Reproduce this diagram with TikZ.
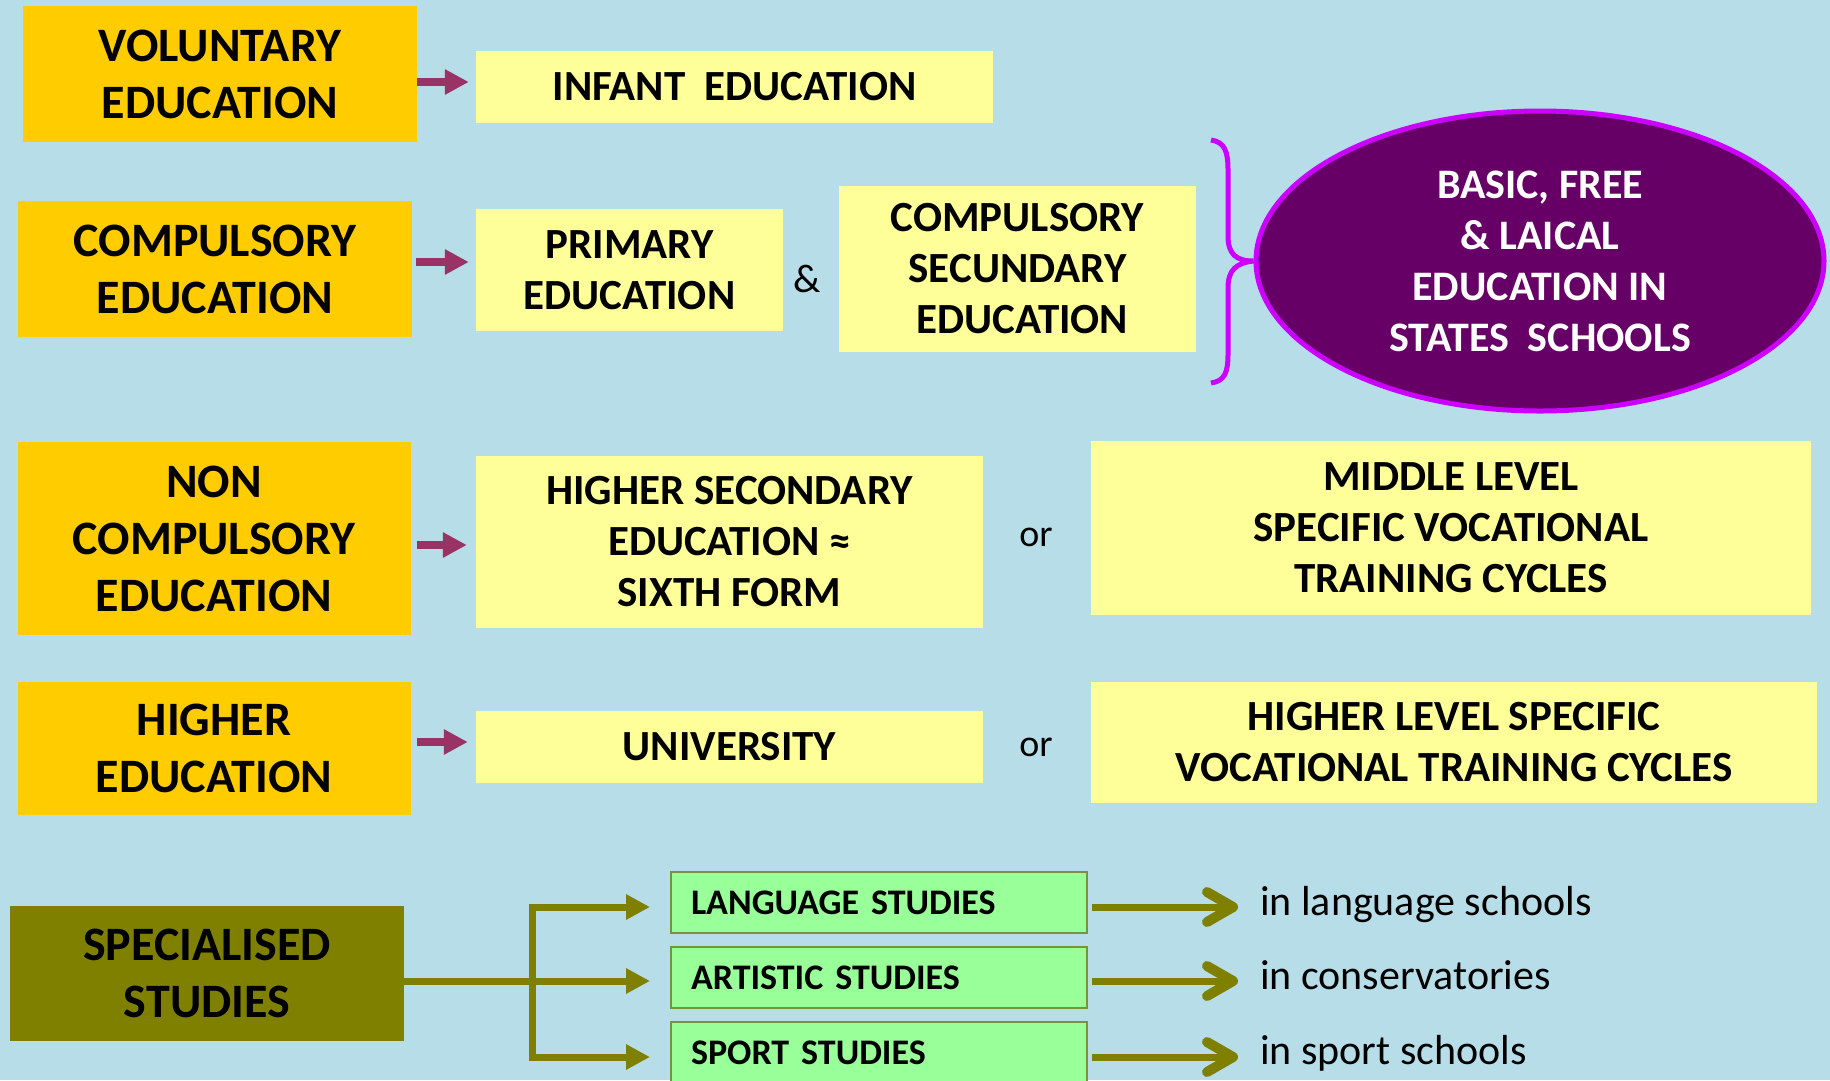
\documentclass[tikz,border=0pt]{standalone}
\usepackage{fontspec}
\setmainfont{Carlito}
\usetikzlibrary{arrows.meta,shapes.geometric}
\definecolor{bg}{RGB}{183,222,232}
\definecolor{orng}{RGB}{255,204,0}
\definecolor{ylw}{RGB}{255,255,153}
\definecolor{parr}{RGB}{153,51,102}
\definecolor{plum}{RGB}{102,0,102}
\definecolor{vio}{RGB}{204,0,255}
\definecolor{olv}{RGB}{128,128,0}
\definecolor{grn}{RGB}{153,255,153}
\definecolor{grnb}{RGB}{119,147,60}
\begin{document}
\begin{tikzpicture}[x=1pt,y=-1pt,
  box/.style={inner sep=0pt, align=center},
  obox/.style={box, fill=orng, font=\bfseries\fontsize{48}{57}\selectfont},
  ybox/.style={box, fill=ylw, font=\bfseries\fontsize{43}{51}\selectfont},
  gbox/.style={fill=grn, draw=grnb, line width=2pt, inner ysep=0pt, inner xsep=20pt,
    text width=376pt, align=left, minimum height=61pt, font=\bfseries\fontsize{36}{40}\selectfont},
  sbox/.style={box, fill=olv, font=\bfseries\fontsize{48}{57}\selectfont},
  plain/.style={inner sep=0pt, font=\fontsize{42}{48}\selectfont},
  parrow/.style={draw=parr, line width=8pt, -{Triangle[length=24pt,width=24pt]}},
  oline/.style={draw=olv, line width=7pt},
  oarrs/.style={oline, line join=miter, -{Triangle[length=24pt,width=24pt]}, shorten >=20pt},
  oarrl/.style={oline, -{Straight Barb[length=26pt,width=30pt,round,line width=10pt 0]}, shorten >=22pt, shorten <=4pt},
]
\useasboundingbox (0,0) rectangle (1830,1080);
\clip (0,0) rectangle (1830,1080);
\fill[bg] (0,0) rectangle (1830,1080);

% left column
\node[obox, minimum width=394pt, minimum height=136pt] (vol) at (220,74) {VOLUNTARY\\EDUCATION};
\node[obox, minimum width=394pt, minimum height=136pt] (comp) at (215,269) {COMPULSORY\\EDUCATION};
\node[obox, minimum width=393pt, minimum height=193pt] (ncomp) at (214,538.5) {NON\\COMPULSORY\\EDUCATION};
\node[obox, minimum width=393pt, minimum height=133pt] (high) at (214,748.5) {HIGHER\\EDUCATION};
\node[sbox, minimum width=394pt, minimum height=135pt] (spec) at (207,973.5) {SPECIALISED\\STUDIES};

% yellow boxes
\node[ybox, minimum width=517pt, minimum height=72pt] (inf) at (734.5,87) {INFANT~~EDUCATION};
\node[ybox, minimum width=307pt, minimum height=122pt] (prim) at (629.5,270) {PRIMARY\\EDUCATION};
\node[ybox, minimum width=357pt, minimum height=166pt] (csec) at (1017.5,269) {COMPULSORY\\SECUNDARY\\~EDUCATION};
\node[ybox, minimum width=507pt, minimum height=172pt] (hsec) at (729.5,542) {HIGHER SECONDARY\\EDUCATION ≈\\SIXTH FORM};
\node[ybox, minimum width=720pt, minimum height=174pt] (mid) at (1451,528) {MIDDLE LEVEL\\SPECIFIC VOCATIONAL\\TRAINING CYCLES};
\node[ybox, minimum width=507pt, minimum height=72pt] (univ) at (729.5,747) {UNIVERSITY};
\node[ybox, minimum width=726pt, minimum height=121pt] (hlev) at (1454,742.5) {HIGHER LEVEL SPECIFIC\\VOCATIONAL TRAINING CYCLES};

% small words
\node[plain, anchor=base, font=\fontsize{40}{44}\selectfont] (amp) at (807,292) {\&};
\node[plain, anchor=base, font=\fontsize{38}{44}\selectfont] (or1) at (1036,546) {or};
\node[plain, anchor=base, font=\fontsize{38}{44}\selectfont] (or2) at (1036,756) {or};

% ellipse and brace
\node[ellipse, draw=vio, line width=5pt, fill=plum, minimum width=568pt, minimum height=300pt,
  inner sep=0pt, text=white, align=center, font=\bfseries\fontsize{42}{51}\selectfont] (ell) at (1540,261)
  {BASIC, FREE\\\& LAICAL\\EDUCATION IN\\STATES~~SCHOOLS};
\draw[vio, line width=5pt] (1211,140) .. controls (1225,142) and (1228,152) .. (1228,170) -- (1228,236)
  .. controls (1228,254) and (1236,261) .. (ell.west)
  .. controls (1236,263) and (1228,270) .. (1228,288) -- (1228,354)
  .. controls (1228,372) and (1225,381) .. (1211,383);

% purple arrows
\draw[parrow, shorten >=7pt] ([yshift=-8pt]vol.east) -- ([yshift=-8pt]vol.east -| inf.west);
\draw[parrow, shorten >=7pt, shorten <=4pt] ([yshift=7pt]comp.east) -- ([yshift=7pt]comp.east -| prim.west);
\draw[parrow, shorten >=9pt, shorten <=6pt] ([yshift=-6.5pt]ncomp.east) -- ([yshift=-6.5pt]ncomp.east -| hsec.west);
\draw[parrow, shorten >=8pt, shorten <=6pt] ([yshift=6.5pt]high.east) -- ([yshift=6.5pt]high.east -| univ.west);

% green boxes
\node[gbox] (lang) at (879,902.5) {LANGUAGE STUDIES};
\node[gbox] (art) at (879,977.5) {ARTISTIC STUDIES};
\node[gbox, minimum height=62pt] (sport) at (879,1053) {SPORT STUDIES};

% texts at right
\node[plain, anchor=base west] (t1) at (1260,915) {in language schools};
\node[plain, anchor=base west] (t2) at (1260,989) {in conservatories};
\node[plain, anchor=base west] (t3) at (1260,1064) {in sport schools};

% olive connectors
\coordinate (split) at (532,981);
\draw[oarrs] ([yshift=-7.5pt]spec.east) -- ([yshift=-7.5pt]spec.east -| art.west);
\draw[oarrs] (split) |- ([yshift=-4.5pt]lang.west);
\draw[oarrs] (split) |- ([yshift=-4pt]sport.west);
\draw[oarrl] ([yshift=-4.5pt]lang.east) -- ([yshift=-4.5pt]lang.east -| t1.west);
\draw[oarrl] ([yshift=-3.5pt]art.east) -- ([yshift=-3.5pt]art.east -| t2.west);
\draw[oarrl] ([yshift=-4pt]sport.east) -- ([yshift=-4pt]sport.east -| t3.west);
\end{tikzpicture}
\end{document}
